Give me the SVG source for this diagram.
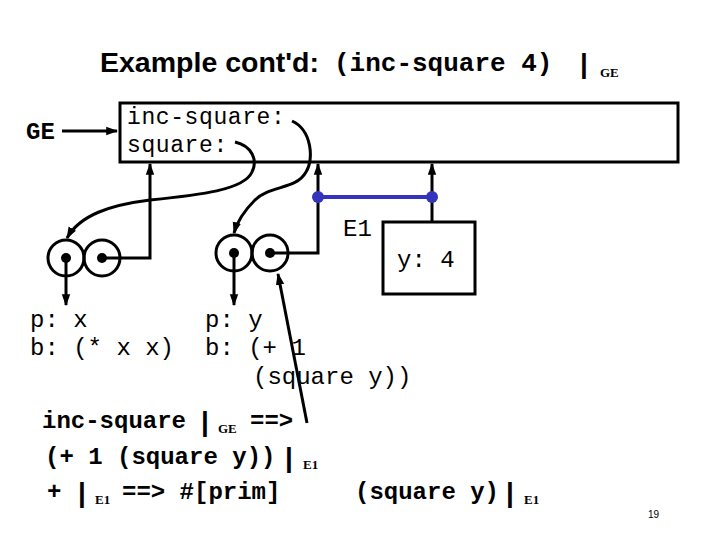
<svg xmlns="http://www.w3.org/2000/svg" width="720" height="540" viewBox="0 0 720 540">
<style>
.m{font-family:"Liberation Mono","Courier New",monospace;font-size:24px;fill:#000}
.b{font-weight:bold}
.t{font-size:26px}
.f{font-size:23px;letter-spacing:0.6px}
.s{font-family:"Liberation Serif","Times New Roman",serif;font-weight:bold;font-size:13px}
.bar{font-family:"Liberation Sans",Arial,sans-serif;font-weight:bold;font-size:28px}
.ln{fill:none;stroke:#000;stroke-width:3}
.bl{fill:none;stroke:#3333bb;stroke-width:4}
</style>
<defs>
<marker id="ah" viewBox="0 0 10 10" refX="9" refY="5" markerWidth="4" markerHeight="4" orient="auto" markerUnits="strokeWidth">
<path d="M0,1.5 L10,5 L0,8.5 z" fill="#000"/>
</marker>
</defs>
<rect width="720" height="540" fill="#fff"/>
<g id="title">
<text x="100" y="72" font-family="Liberation Sans,Arial,sans-serif" font-weight="bold" font-size="28.5">Example cont'd:</text>
<text x="334" y="71" class="m b t">(inc-square 4)</text>
<text x="580" y="73" class="bar">|</text>
<text x="600" y="77" class="s">GE</text>
</g>
<g id="GE-frame">
<rect x="120" y="103" width="558" height="59" fill="none" stroke="#000" stroke-width="3"/>
<text x="127" y="124" class="m f">inc-square:</text>
<text x="127" y="152" class="m f">square:</text>
</g>
<g id="GE-label"><text x="26" y="139" class="m b">GE</text></g>
<g id="proc1">
<circle cx="66" cy="258" r="18" fill="none" stroke="#000" stroke-width="3"/>
<circle cx="102" cy="258" r="18" fill="none" stroke="#000" stroke-width="3"/>
<circle cx="66" cy="258" r="5" fill="#000"/>
<circle cx="102" cy="258" r="5" fill="#000"/>
</g>
<g id="proc2">
<circle cx="234" cy="253" r="18" fill="none" stroke="#000" stroke-width="3"/>
<circle cx="270" cy="253" r="18" fill="none" stroke="#000" stroke-width="3"/>
<circle cx="234" cy="253" r="5" fill="#000"/>
<circle cx="270" cy="253" r="5" fill="#000"/>
</g>
<g id="E1-frame">
<rect x="383" y="222" width="92" height="72" fill="none" stroke="#000" stroke-width="3"/>
<text x="397" y="267" class="m">y: 4</text>
<text x="343" y="236" class="m">E1</text>
</g>
<g id="proc1-text">
<text x="30" y="327" class="m">p: x</text>
<text x="30" y="355" class="m">b: (* x x)</text>
</g>
<g id="proc2-text">
<text x="205" y="327" class="m">p: y</text>
<text x="205" y="355" class="m">b: (+ 1</text>
<text x="253" y="384" class="m">(square y))</text>
</g>
<g id="connectors">
<line x1="62" y1="131" x2="117" y2="131" class="ln" marker-end="url(#ah)"/>
<path d="M235,142 C252,146 258,160 252,172 C244,190 200,195 150,200 C110,205 80,215 67,238" class="ln" marker-end="url(#ah)"/>
<path d="M292,121 C312,130 314,160 306,172 C296,190 270,185 255,200 C243,212 237,222 234,233" class="ln" marker-end="url(#ah)"/>
<polyline points="102,258 150,258 150,164" class="ln" marker-end="url(#ah)"/>
<polyline points="270,253 318,253 318,164" class="ln" marker-end="url(#ah)"/>
<line x1="432" y1="222" x2="432" y2="164" class="ln" marker-end="url(#ah)"/>
<line x1="66" y1="258" x2="66" y2="305" class="ln" marker-end="url(#ah)"/>
<line x1="234" y1="253" x2="234" y2="305" class="ln" marker-end="url(#ah)"/>
<line x1="307" y1="423" x2="278" y2="274" class="ln" marker-end="url(#ah)"/>
<line x1="318" y1="197" x2="432" y2="197" class="bl"/>
<circle cx="318" cy="197" r="6" fill="#3333bb"/>
<circle cx="432" cy="197" r="6" fill="#3333bb"/>
</g>
<g id="eval-text">
<text x="42" y="428" class="m b">inc-square</text>
<text x="201" y="431" class="bar">|</text>
<text x="218" y="433" class="s">GE</text>
<text x="250" y="428" class="m b">==&gt;</text>
<text x="45" y="464" class="m b">(+ 1 (square y))</text>
<text x="285" y="467" class="bar">|</text>
<text x="303" y="469" class="s">E1</text>
<text x="47" y="499" class="m b">+</text>
<text x="78" y="502" class="bar">|</text>
<text x="95" y="504" class="s">E1</text>
<text x="122" y="499" class="m b">==&gt; #[prim]</text>
<text x="355" y="499" class="m b">(square y)</text>
<text x="506" y="502" class="bar">|</text>
<text x="524" y="504" class="s">E1</text>
<text x="648" y="518" font-family="Liberation Sans,Arial,sans-serif" font-size="10">19</text>
</g>
</svg>
